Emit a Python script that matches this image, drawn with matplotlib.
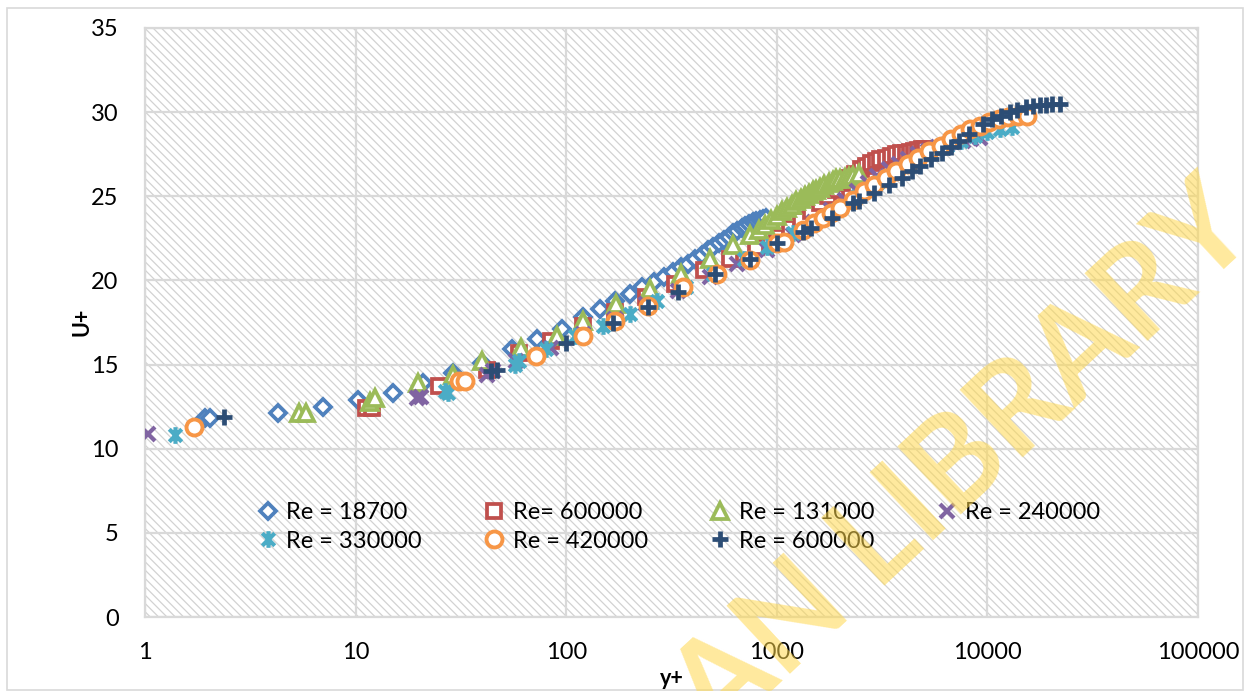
import numpy as np
import matplotlib
matplotlib.use("Agg")
import matplotlib.pyplot as plt
from matplotlib.path import Path
from matplotlib.patches import Rectangle

plt.rcParams['font.family'] = ['Lato', 'DejaVu Sans']
plt.rcParams['hatch.linewidth'] = 0.9

# velocity profiles, U+ against y+ for each Reynolds number
yp_18700 = [1.93, 2.04, 4.3, 7.0, 10.3, 15.0, 21.0, 29.0, 40.0, 55.0, 73.0, 95.0, 120, 145, 170, 200, 230, 260,
            290, 320, 350, 380, 410, 440, 470, 500, 530, 560, 590, 620, 650, 680, 710, 740, 770, 800, 830, 860, 890]
up_18700 = [11.8, 11.8, 12.1, 12.5, 12.9, 13.3, 13.9, 14.5, 15.1, 15.9, 16.5, 17.1, 17.8, 18.3, 18.8, 19.2, 19.6, 19.9,
            20.2, 20.5, 20.8, 21.0, 21.3, 21.5, 21.8, 22.0, 22.2, 22.4, 22.6, 22.8, 22.95, 23.1, 23.25, 23.35, 23.45,
            23.55, 23.6, 23.65, 23.7]

yp_600k_a = [11.2, 11.9, 25, 42, 60, 85, 120, 170, 240, 330, 450, 600, 800, 1000, 1150, 1300, 1450, 1600, 1750, 1900,
             2050, 2200, 2350, 2500, 2650, 2800, 2950, 3100, 3300, 3500, 3700, 3900, 4100, 4300, 4500, 4700, 4900, 5050]
up_600k_a = [12.4, 12.4, 13.7, 14.7, 15.7, 16.4, 17.3, 18.1, 19.0, 19.8, 20.6, 21.3, 22.0, 22.6, 23.1, 23.6, 24.1,
             24.6, 25.0, 25.4, 25.8, 26.1, 26.35, 26.6, 26.8, 26.95, 27.1, 27.2, 27.3, 27.4, 27.5, 27.55, 27.6, 27.65,
             27.7, 27.75, 27.8, 27.8]

yp_131k = [5.4, 5.8, 11.7, 12.3, 19.8, 29, 40, 61, 90, 120, 173, 250, 350, 480, 620, 750, 820, 880, 940, 1000, 1060,
           1120, 1180, 1240, 1300, 1360, 1420, 1480, 1540, 1600, 1680, 1760, 1840, 1920, 2000, 2100, 2200, 2300, 2450]
up_131k = [12.1, 12.1, 12.8, 13.0, 13.9, 14.4, 15.2, 16.0, 16.7, 17.6, 18.6, 19.5, 20.4, 21.3, 22.1, 22.7, 23.0, 23.3,
           23.6, 23.85, 24.1, 24.3, 24.5, 24.7, 24.85, 25.0, 25.15, 25.3, 25.4, 25.5, 25.65, 25.8, 25.9, 26.0, 26.05,
           26.1, 26.15, 26.2, 26.3]

yp_240k = [1.03, 19.5, 20.5, 42, 45, 58, 85, 120, 170, 240, 340, 480, 650, 900, 1200, 1500, 1800, 2100, 2400, 2700,
           3000, 3400, 3800, 4200, 4700, 5200, 5800, 6400, 7000, 7700, 8400, 9200]
up_240k = [10.9, 13.0, 13.1, 14.4, 14.6, 15.2, 16.0, 16.8, 17.7, 18.6, 19.4, 20.2, 21.0, 21.8, 22.7, 23.5, 24.2, 24.8,
           25.3, 25.8, 26.2, 26.6, 26.9, 27.2, 27.5, 27.7, 27.9, 28.05, 28.2, 28.3, 28.4, 28.45]

yp_330k = [1.39, 26.5, 27.5, 57, 60, 80, 110, 150, 200, 270, 370, 500, 700, 900, 1200, 1500, 1900, 2400, 3000, 3700,
           4500, 5400, 6400, 7500, 8700, 10000, 11500, 13100]
up_330k = [10.8, 13.4, 13.3, 15.0, 15.2, 15.9, 16.7, 17.3, 18.0, 18.8, 19.6, 20.4, 21.3, 22.0, 22.8, 23.5, 24.2, 25.0,
           25.8, 26.5, 27.1, 27.6, 28.0, 28.3, 28.6, 28.8, 29.0, 29.1]

yp_420k = [1.71, 31, 33, 72, 120, 170, 245, 360, 520, 750, 1000, 1080, 1330, 1500, 1650, 1800, 2000, 2300, 2600, 2900,
           3300, 3700, 4200, 4700, 5300, 6000, 6700, 7500, 8300, 9200, 10200, 11300, 12500, 14000, 15500]
up_420k = [11.3, 14.0, 14.0, 15.5, 16.7, 17.6, 18.5, 19.6, 20.4, 21.2, 22.2, 22.3, 23.0, 23.4, 23.7, 24.0, 24.3, 24.8,
           25.3, 25.7, 26.1, 26.5, 26.9, 27.3, 27.7, 28.0, 28.4, 28.7, 29.0, 29.2, 29.4, 29.6, 29.7, 29.8, 29.8]

yp_600k_b = [2.37, 44, 47, 100, 167, 245, 340, 510, 750, 1000, 1330, 1450, 1830, 2300, 2450, 2900, 3400, 3930, 4400,
             4800, 5400, 6100, 6700, 7300, 8200, 9500, 10500, 11600, 12800, 13800, 15300, 16500, 17800, 19000, 20300,
             22000]
up_600k_b = [11.9, 14.6, 14.7, 16.3, 17.5, 18.4, 19.3, 20.4, 21.3, 22.2, 22.9, 23.1, 23.7, 24.6, 24.7, 25.2, 25.7, 26.1,
             26.5, 26.8, 27.2, 27.6, 27.9, 28.3, 28.7, 29.3, 29.6, 29.8, 30.0, 30.1, 30.3, 30.35, 30.4, 30.45, 30.5, 30.5]

labels = ['Re = 18700', 'Re= 600000', 'Re = 131000', 'Re = 240000', 'Re = 330000', 'Re = 420000', 'Re = 600000']
x_ticks = [1, 10, 100, 1000, 10000, 100000]
x_ticklabels = ['1', '10', '100', '1000', '10000', '100000']
y_ticks = [0, 5, 10, 15, 20, 25, 30, 35]

# asterisk: vertical bar plus an x
star = Path([(0, -1), (0, 1), (-0.75, -0.75), (0.75, 0.75), (-0.75, 0.75), (0.75, -0.75)],
            [Path.MOVETO, Path.LINETO] * 3)

styles = [
    dict(marker='D', color='#4F81BD', ms=8, mew=2.7, mfc='white'),
    dict(marker='s', color='#C0504D', ms=10.5, mew=2.7, mfc='white'),
    dict(marker='^', color='#9BBB59', ms=12, mew=2.7, mfc='white'),
    dict(marker='x', color='#8064A2', ms=10, mew=3),
    dict(marker=star, color='#4BACC6', ms=12, mew=3),
    dict(marker='o', color='#F79646', ms=11.5, mew=2.8, mfc='white'),
    dict(marker='+', color='#2C4D75', ms=12, mew=3.4),
]
series = [(yp_18700, up_18700), (yp_600k_a, up_600k_a), (yp_131k, up_131k), (yp_240k, up_240k),
          (yp_330k, up_330k), (yp_420k, up_420k), (yp_600k_b, up_600k_b)]

fig = plt.figure(figsize=(12.5, 6.91), dpi=100)
ax = fig.add_axes([145 / 1250, 1 - 617 / 691, (1198 - 145) / 1250, (617 - 28) / 691])

# hatched plot area
ax.patch.set_visible(False)
ax.add_patch(Rectangle((0, 0), 1, 1, transform=ax.transAxes, facecolor='white',
                       edgecolor='#d2d2d2', hatch='\\\\\\\\', lw=0, zorder=0))

handles = []
for (xv, yv), st, lab in zip(series, styles, labels):
    h, = ax.plot(xv, yv, linestyle='none', marker=st['marker'], color=st['color'], ms=st['ms'],
                 mew=st['mew'], mfc=st.get('mfc', 'none'), label=lab, zorder=3)
    handles.append(h)

ax.set_xscale('log')
ax.set_xlim(1, 100000)
ax.set_ylim(0, 35)
ax.set_xticks(x_ticks)
ax.set_xticklabels(x_ticklabels)
ax.xaxis.set_minor_locator(matplotlib.ticker.NullLocator())
ax.set_yticks(y_ticks)
ax.tick_params(axis='both', length=0, labelsize=17)
ax.tick_params(axis='x', pad=18)
ax.tick_params(axis='y', pad=19)
ax.set_axisbelow(True)
ax.grid(True, color='#d9d9d9', lw=1.6)
for sp in ax.spines.values():
    sp.set_color('#d9d9d9')
    sp.set_linewidth(1.6)

ax.set_xlabel('y+', fontsize=15.5, fontweight='bold')
ax.set_ylabel('U+', fontsize=15.5, fontweight='bold')
ax.xaxis.set_label_coords((672 - 145) / 1053, (617 - 668) / 589)
ax.yaxis.set_label_coords((93 - 145) / 1053, (617 - 322) / 589)

# legend laid out row by row
order = [0, 4, 1, 5, 2, 6, 3]
leg = ax.legend([handles[i] for i in order], [labels[i] for i in order], ncol=4, frameon=False,
                fontsize=17, loc='center left', bbox_to_anchor=((244 - 145) / 1053, (617 - 527) / 589),
                borderpad=0, handlelength=1.0, handletextpad=0.3, columnspacing=2.55, labelspacing=0.3)

# library watermark
fig.text(852 / 1250, 1 - 566 / 691, 'IBADAN LIBRARY', fontsize=92, fontweight='bold', color='#FFD84D',
         alpha=0.55, rotation=43, ha='center', va='center', zorder=10)

# outer chart border
fig.patches.append(Rectangle((7 / 1250, 1 / 691), (1243 - 7) / 1250, (690 - 8) / 691, transform=fig.transFigure,
                             fill=False, edgecolor='#d9d9d9', lw=1.2))

fig.savefig('out.png', dpi=100)
